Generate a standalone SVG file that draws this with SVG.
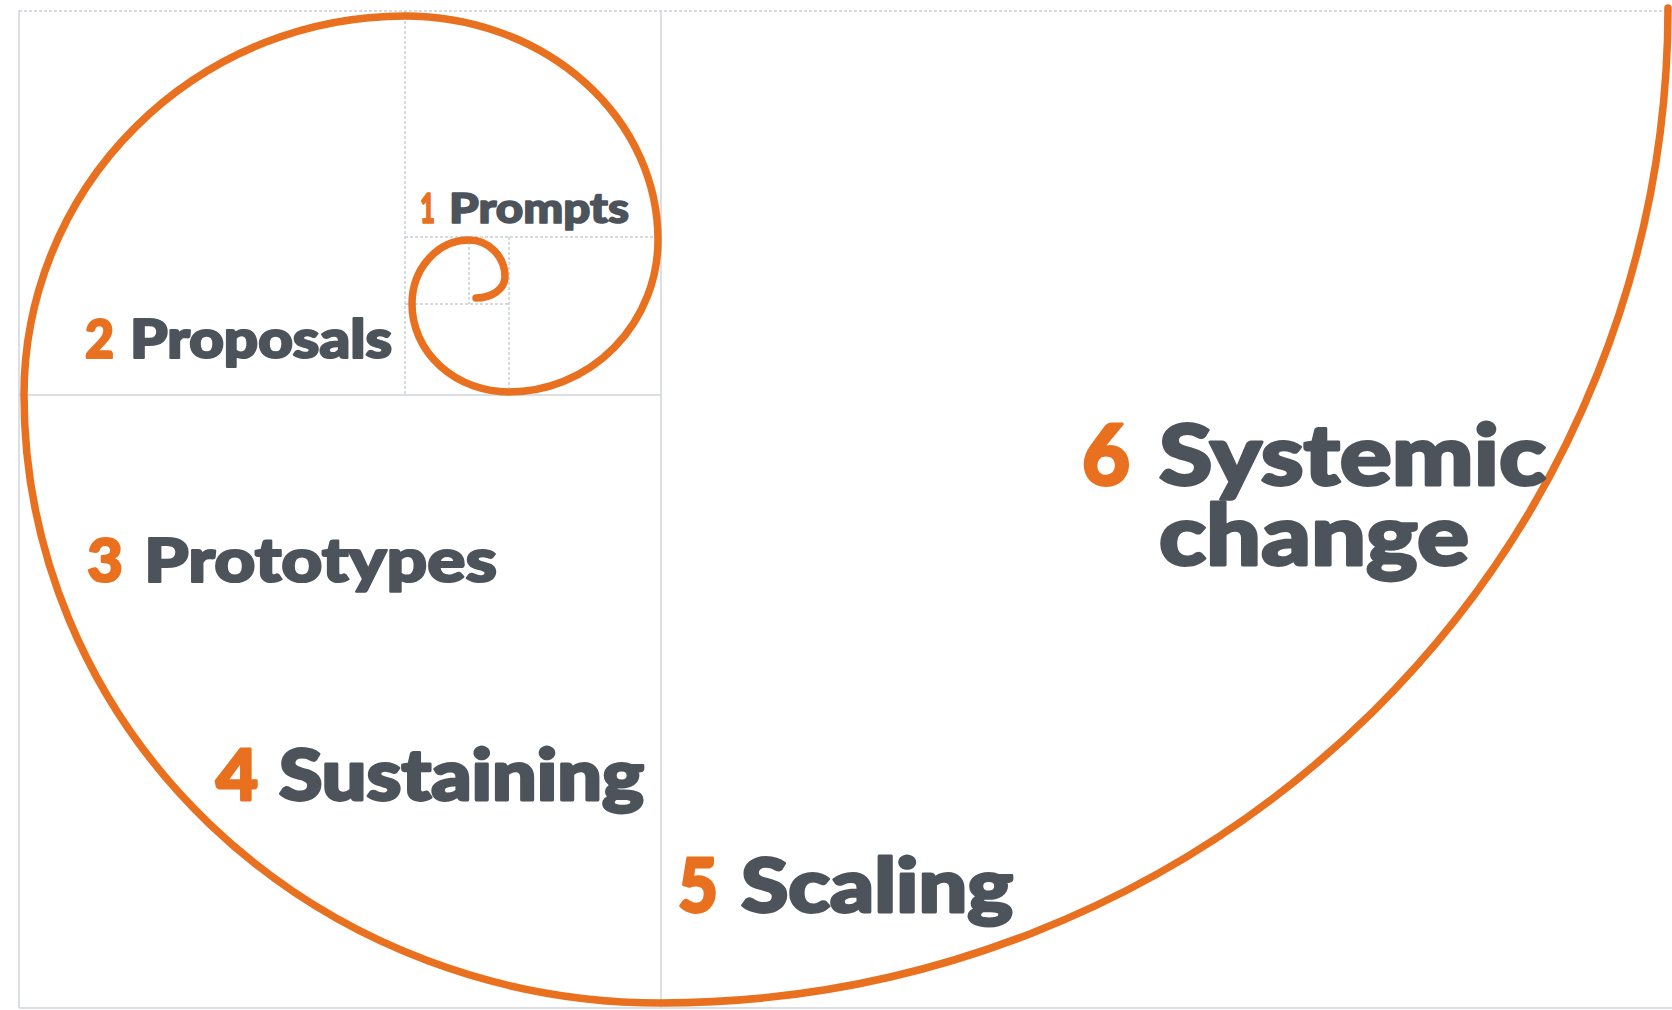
<svg xmlns="http://www.w3.org/2000/svg" width="1672" height="1010" viewBox="0 0 1672 1010">
<style>
.grid{stroke:#cfd3d8;stroke-width:1.5;fill:none}
.gridd{stroke:#c9cfd6;stroke-width:1.5;fill:none;stroke-dasharray:3 2}
.spiral{stroke:#E8701E;stroke-width:7.5;fill:none;stroke-linecap:round}
.num{fill:#E8701E;stroke:#E8701E;font-family:Lato,"Liberation Sans",sans-serif;font-weight:900;stroke-linejoin:round}
.lbl{fill:#4D535B;stroke:#4D535B;font-family:Lato,"Liberation Sans",sans-serif;font-weight:900;stroke-linejoin:round}
.s1{stroke-width:1.6}
.s2{stroke-width:2.2}
.s3{stroke-width:2.8}
</style>
<rect x="0" y="0" width="1672" height="1010" fill="#ffffff"/>
<g id="grid">
<line class="gridd" x1="19" y1="11" x2="1672" y2="11"/>
<line class="grid" x1="19" y1="11" x2="19" y2="1008"/>
<line class="grid" x1="19" y1="1008" x2="1672" y2="1008"/>
<line class="grid" x1="661" y1="11" x2="661" y2="1008"/>
<line class="grid" x1="19" y1="395" x2="661" y2="395"/>
<line class="gridd" x1="405" y1="11" x2="405" y2="395"/>
<line class="gridd" x1="405" y1="237" x2="661" y2="237"/>
<line class="gridd" x1="509" y1="237" x2="509" y2="395"/>
<line class="gridd" x1="405" y1="304" x2="509" y2="304"/>
<line class="gridd" x1="469" y1="237" x2="469" y2="304"/>
</g>
<g id="spiral">
<path class="spiral" d="M 476 298 A 29 21 0 0 0 505 277 A 36 37 0 0 0 469 240 A 57 64 0 0 0 412 304 A 97 88 0 0 0 509 392 A 149 152 0 0 0 658 240 A 253 224 0 0 0 405 16 A 381 379 0 0 0 24 395 A 637 608 0 0 0 661 1003 A 1007 995 0 0 0 1668 8"/>
</g>
<g id="node1">
<text class="num s1" x="420" y="223" font-size="41" textLength="15" lengthAdjust="spacingAndGlyphs">1</text>
<text class="lbl s1" x="449" y="223" font-size="41" textLength="180" lengthAdjust="spacingAndGlyphs">Prompts</text>
</g>
<g id="node2">
<text class="num s2" x="85" y="358" font-size="53" textLength="29" lengthAdjust="spacingAndGlyphs">2</text>
<text class="lbl s2" x="130" y="358" font-size="53" textLength="262" lengthAdjust="spacingAndGlyphs">Proposals</text>
</g>
<g id="node3">
<text class="num s2" x="87" y="582" font-size="61" textLength="36" lengthAdjust="spacingAndGlyphs">3</text>
<text class="lbl s2" x="144" y="582" font-size="61" textLength="353" lengthAdjust="spacingAndGlyphs">Prototypes</text>
</g>
<g id="node4">
<text class="num s3" x="216" y="800" font-size="70" textLength="42" lengthAdjust="spacingAndGlyphs">4</text>
<text class="lbl s3" x="279" y="800" font-size="70" textLength="365" lengthAdjust="spacingAndGlyphs">Sustaining</text>
</g>
<g id="node5">
<text class="num s3" x="678" y="912" font-size="74" textLength="40" lengthAdjust="spacingAndGlyphs">5</text>
<text class="lbl s3" x="741" y="912" font-size="74" textLength="272" lengthAdjust="spacingAndGlyphs">Scaling</text>
</g>
<g id="node6">
<text class="num s3" x="1082" y="485" font-size="84" textLength="48" lengthAdjust="spacingAndGlyphs">6</text>
<text class="lbl s3" x="1159" y="485" font-size="84" textLength="387" lengthAdjust="spacingAndGlyphs">Systemic</text>
<text class="lbl s3" x="1159" y="565" font-size="84" textLength="310" lengthAdjust="spacingAndGlyphs">change</text>
</g>
</svg>
